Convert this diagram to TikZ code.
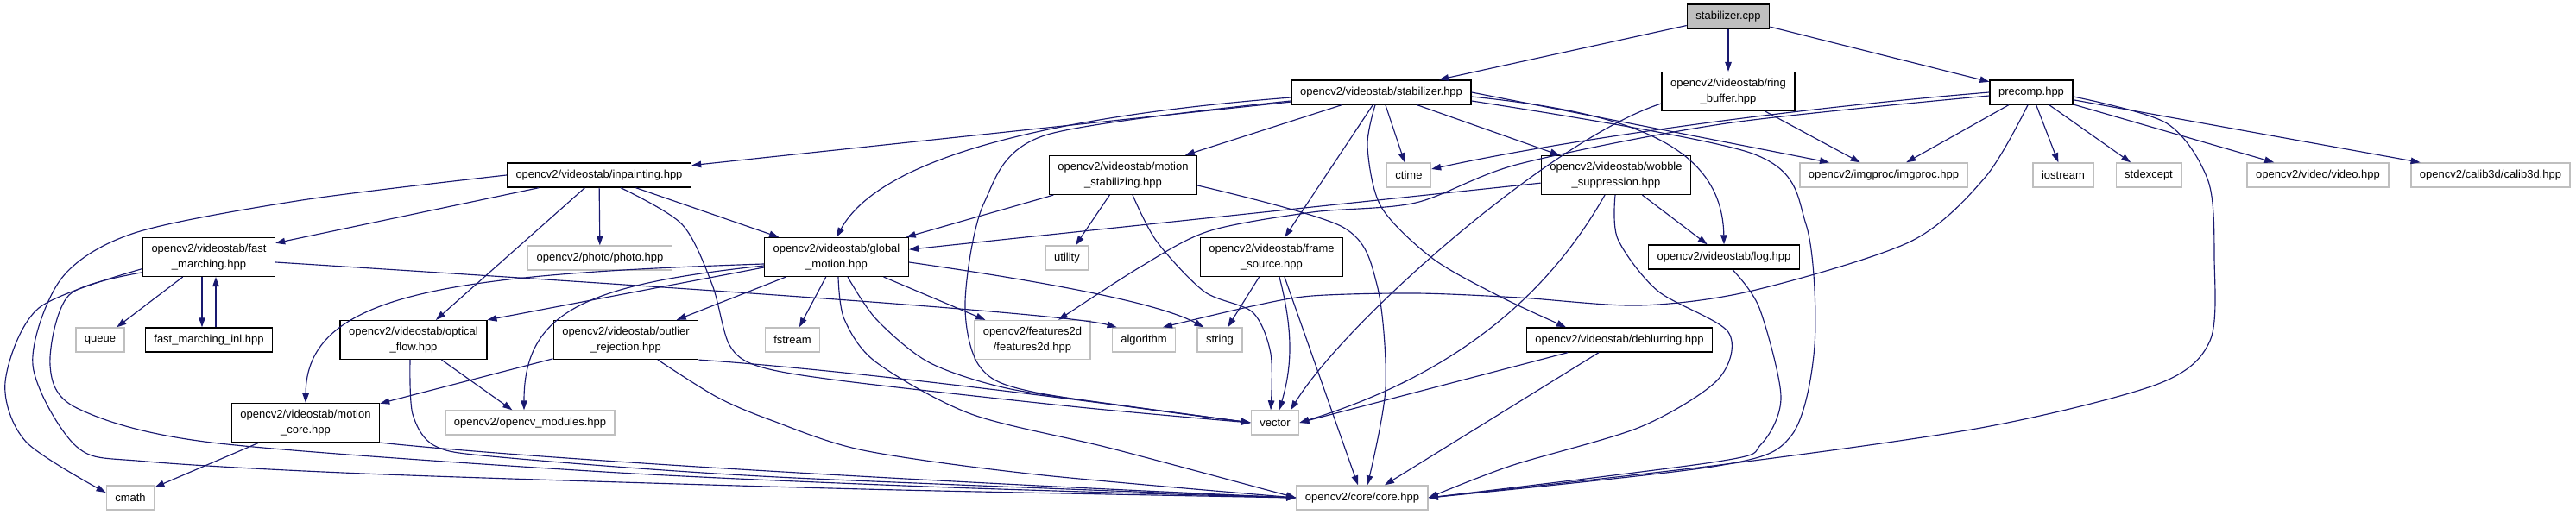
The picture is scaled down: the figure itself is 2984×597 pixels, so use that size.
\documentclass[tikz,border=0pt]{standalone}
\usepackage{fontspec}
\setmainfont{Liberation Sans}
\usetikzlibrary{arrows.meta,calc}
\definecolor{incblue}{HTML}{191970}
\definecolor{boxgray}{HTML}{BFBFBF}
\tikzset{
  file/.style={draw=black, fill=white, line width=0.8pt, align=center, inner xsep=0.2cm, inner ysep=4.2pt, minimum height=0.56cm, font=\fontsize{7.4pt}{10.2pt}\selectfont},
  sys/.style={file, draw=boxgray},
  root/.style={file, fill=boxgray},
  inc/.style={draw=incblue, line width=0.65pt, -{Triangle[length=0.22cm,width=0.15cm]}}
}

\begin{document}
\begin{tikzpicture}[x=0.02cm,y=-0.02cm]
        \useasboundingbox (0,0) rectangle (2984,597);
        \node[root] (cpp) at (2002,19) {stabilizer.cpp};
        \node[file] (stab) at (1600,107) {opencv2/videostab/stabilizer.hpp};
        \node[file] (ring) at (2002,106) {opencv2/videostab/ring\\\_buffer.hpp};
        \node[file] (precomp) at (2353,107) {precomp.hpp};
        \node[file] (inp) at (694,203) {opencv2/videostab/inpainting.hpp};
        \node[file] (mstab) at (1301,203) {opencv2/videostab/motion\\\_stabilizing.hpp};
        \node[sys] (ctime) at (1632,203) {ctime};
        \node[file] (wobble) at (1872,203) {opencv2/videostab/wobble\\\_suppression.hpp};
        \node[sys] (imgproc) at (2182,203) {opencv2/imgproc/imgproc.hpp};
        \node[sys] (iostream) at (2390,203) {iostream};
        \node[sys] (stdexcept) at (2489,203) {stdexcept};
        \node[sys] (video) at (2685,203) {opencv2/video/video.hpp};
        \node[sys] (calib) at (2885,203) {opencv2/calib3d/calib3d.hpp};
        \node[file] (fmarch) at (242,298) {opencv2/videostab/fast\\\_marching.hpp};
        \node[sys] (photo) at (695,299) {opencv2/photo/photo.hpp};
        \node[file] (gmotion) at (969,298) {opencv2/videostab/global\\\_motion.hpp};
        \node[sys] (utility) at (1236,299) {utility};
        \node[file] (fsource) at (1473,298) {opencv2/videostab/frame\\\_source.hpp};
        \node[file] (log) at (1997,298) {opencv2/videostab/log.hpp};
        \node[sys] (queue) at (116,394) {queue};
        \node[file] (fminl) at (242,394) {fast\_marching\_inl.hpp};
        \node[file] (oflow) at (479,394) {opencv2/videostab/optical\\\_flow.hpp};
        \node[file] (outlier) at (725,394) {opencv2/videostab/outlier\\\_rejection.hpp};
        \node[sys] (fstream) at (918,394) {fstream};
        \node[sys] (feat) at (1196,394) {opencv2/features2d\\/features2d.hpp};
        \node[sys] (algorithm) at (1325,394) {algorithm};
        \node[sys] (string) at (1413,394) {string};
        \node[file] (deblur) at (1876,394) {opencv2/videostab/deblurring.hpp};
        \node[file] (mcore) at (354,490) {opencv2/videostab/motion\\\_core.hpp};
        \node[sys] (modules) at (614,490) {opencv2/opencv\_modules.hpp};
        \node[sys] (vector) at (1477,490) {vector};
        \node[sys] (cmath) at (151,577) {cmath};
        \node[sys] (core) at (1578,577) {opencv2/core/core.hpp};

        \draw[inc] (cpp) -- (stab);
        \draw[inc] (cpp) -- (ring);
        \draw[inc] (cpp) -- (precomp);

        \draw[inc] (stab) -- (inp);
        \draw[inc] ($(stab.west)+(0,6)$) .. controls (1150,140) and (1010,200) .. (gmotion.north);
        \draw[inc] plot[smooth] coordinates {($(stab.west)+(0,10)$) (1210,157) (1140,235) (1118,350) (1135,425) (1200,455) (vector.west)};
        \draw[inc] (stab) -- (mstab);
        \draw[inc] (stab) -- (fsource);
        \draw[inc] (stab) -- (ctime);
        \draw[inc] (stab) -- (wobble);
        \draw[inc] plot[smooth] coordinates {($(stab.south)+(-7,0)$) (1584,170) (1600,240) (1660,300) (1740,345) ($(deblur.north)+(-62,0)$)};
        \draw[inc] (stab.east) -- ($(imgproc.north)+(-63,0)$);
        \draw[inc] ($(stab.east)+(0,5)$) .. controls (1880,130) and (1995,165) .. (log.north);
        \draw[inc] plot[smooth] coordinates {($(stab.east)+(0,10)$) (2030,178) (2092,260) (2102,400) (2075,505) (1990,540) (core.east)};

        \draw[inc] ($(ring.west)+(0,14)$) .. controls (1800,160) and (1560,370) .. ($(vector.north)+(18,0)$);
        \draw[inc] (ring) -- (imgproc);

        \draw[inc] (precomp.west) .. controls (2050,128) and (1800,165) .. ($(ctime.east)+(0,-7)$);
        \draw[inc] plot[smooth] coordinates {($(precomp.west)+(0,4)$) (2000,143) (1760,190) (1640,235) (1520,246) (1400,268) (1320,310) ($(feat.north)+(30,0)$)};
        \draw[inc] plot[smooth] coordinates {($(precomp.south)+(-4,0)$) (2300,205) (2213,280) (2030,337) (1900,354) (1760,345) (1640,340) (1520,343) (1450,355) ($(algorithm.north)+(22,0)$)};
        \draw[inc] (precomp) -- (imgproc);
        \draw[inc] (precomp) -- (iostream);
        \draw[inc] (precomp) -- (stdexcept);
        \draw[inc] (precomp) -- (video);
        \draw[inc] (precomp) -- (calib);
        \draw[inc] plot[smooth] coordinates {($(precomp.east)+(0,5)$) (2510,143) (2558,210) (2565,300) (2560,395) (2500,445) (2300,495) (2000,538) (core.east)};

        \draw[inc] (inp) -- (fmarch);
        \draw[inc] (inp) -- (photo);
        \draw[inc] (inp) -- (oflow);
        \draw[inc] (inp) -- (gmotion);
        \draw[inc] plot[smooth] coordinates {($(inp.south)+(25,0)$) (790,260) (825,330) (845,400) (880,425) (980,442) (1250,472) (vector.west)};
        \draw[inc] plot[smooth] coordinates {(inp.west) (350,232) (156,270) (71,323) (38,423) (89,518) (170,535) (446,550) (1000,567) (core.west)};

        \draw[inc] (fmarch) -- (queue);
        \draw[inc] ($(fmarch.south)+(-8,0)$) -- ($(fminl.north)+(-8,0)$);
        \draw[inc] ($(fminl.north)+(8,0)$) -- ($(fmarch.south)+(8,0)$);
        \draw[inc] ($(fmarch.east)+(0,6)$) .. controls (700,328) and (1230,362) .. ($(algorithm.north west)+(6,0)$);
        \draw[inc] plot[smooth] coordinates {(fmarch.190) (45,357) (6,443) (30,512) ($(cmath.west)+(0,-6)$)};
        \draw[inc] plot[smooth] coordinates {(fmarch.193) (80,342) (58,423) (89,473) (245,513) (700,547) (1100,565) (core.west)};

        \draw[inc] ($(gmotion.west)+(0,12)$) -- (oflow.north east);
        \draw[inc] ($(gmotion.west)+(0,10)$) .. controls (680,330) and (607,360) .. ($(modules.north)+(-7,0)$);
        \draw[inc] ($(gmotion.west)+(0,8)$) .. controls (520,318) and (355,340) .. (mcore.north);
        \draw[inc] (gmotion) -- (outlier);
        \draw[inc] (gmotion) -- (fstream);
        \draw[inc] (gmotion) -- (feat);
        \draw[inc] ($(gmotion.east)+(0,6)$) .. controls (1200,325) and (1340,350) .. ($(string.north west)+(8,0)$);
        \draw[inc] plot[smooth] coordinates {($(gmotion.south)+(13,0)$) (1015,370) (1076,420) (1166,450) (1300,470) (vector.west)};
        \draw[inc] plot[smooth] coordinates {($(gmotion.south)+(2,0)$) (978,370) (1015,420) (1125,480) (1288,520) (core.west)};

        \draw[inc] (mstab) -- (gmotion);
        \draw[inc] (mstab) -- (utility);
        \draw[inc] plot[smooth] coordinates {($(mstab.south)+(11,0)$) (1340,280) (1395,338) (1451,362) (1472,410) ($(vector.north)+(-5,0)$)};
        \draw[inc] plot[smooth] coordinates {($(mstab.east)+(0,12)$) (1555,263) (1595,330) (1605,450) ($(core.north)+(6,0)$)};

        \draw[inc] (fsource) -- (string);
        \draw[inc] ($(fsource.south)+(9,0)$) .. controls (1500,390) and (1495,430) .. ($(vector.north)+(5,0)$);
        \draw[inc] ($(fsource.south)+(15,0)$) -- ($(core.north)+(-5,0)$);

        \draw[inc] (wobble) -- (gmotion);
        \draw[inc] (wobble) -- (log);
        \draw[inc] ($(wobble.south)+(-13,0)$) .. controls (1800,330) and (1700,430) .. (vector.east);
        \draw[inc] plot[smooth] coordinates {($(wobble.south)+(-1,0)$) (1874,277) (1920,337) (2002,385) (1990,440) (1900,495) (1750,540) (core.east)};

        \draw[inc] ($(deblur.south)+(-60,0)$) -- (vector.east);
        \draw[inc] ($(deblur.south)+(-24,0)$) -- ($(core.north)+(26,0)$);

        \draw[inc] plot[smooth] coordinates {($(log.south)+(10,0)$) (2038,357) (2063,460) (2040,515) (1990,535) (core.east)};

        \draw[inc] (outlier) -- (mcore);
        \draw[inc] (outlier.south east) .. controls (1000,430) and (1300,470) .. (vector.west);
        \draw[inc] plot[smooth] coordinates {($(outlier.south)+(37,0)$) (830,460) (893,487) (1000,522) (1200,550) (core.west)};

        \draw[inc] (oflow) -- (modules);
        \draw[inc] plot[smooth] coordinates {($(oflow.south)+(-4,0)$) (478,480) (504,517) (580,530) (900,553) (core.west)};

        \draw[inc] (mcore) -- (cmath);
        \draw[inc] (mcore.south east) .. controls (600,530) and (1000,555) .. (core.west);
\end{tikzpicture}
\end{document}
